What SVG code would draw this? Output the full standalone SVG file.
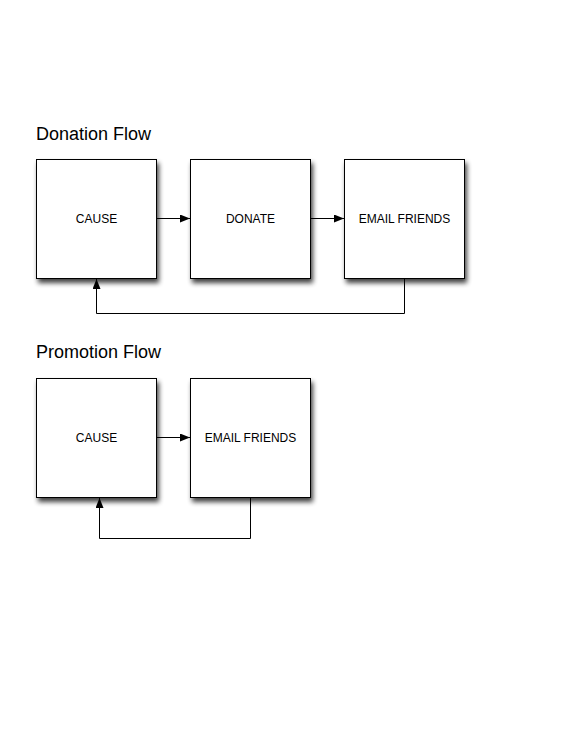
<svg xmlns="http://www.w3.org/2000/svg" width="576" height="733" viewBox="0 0 576 733">
<style>
.box{fill:#fff;stroke:#000;stroke-width:1;filter:url(#sh)}
.lbl{font-family:"Liberation Sans",Arial,sans-serif;font-size:12px;fill:#000;text-anchor:middle}
.title{font-family:"Liberation Sans",Arial,sans-serif;font-size:18px;fill:#000}
.conn{fill:none;stroke:#000;stroke-width:1}
</style>
<defs>
<filter id="sh" x="-20%" y="-20%" width="150%" height="150%">
<feGaussianBlur in="SourceAlpha" stdDeviation="2.6"/>
<feOffset dx="2" dy="3.5" result="b"/>
<feComponentTransfer><feFuncA type="linear" slope="0.75"/></feComponentTransfer>
<feMerge><feMergeNode/><feMergeNode in="SourceGraphic"/></feMerge>
</filter>
<marker id="ah" viewBox="0 0 10 8" refX="10" refY="4" markerWidth="10" markerHeight="8" markerUnits="userSpaceOnUse" orient="auto">
<path d="M0,0 L10,4 L0,8 Z" fill="#000"/>
</marker>
</defs>
<rect width="576" height="733" fill="#fff"/>
<text class="title" x="36" y="140">Donation Flow</text>
<text class="title" x="36" y="358">Promotion Flow</text>
<g id="d-cause"><rect class="box" x="36.5" y="159.5" width="120" height="119"/><text class="lbl" x="96.5" y="222.5">CAUSE</text></g>
<g id="d-donate"><rect class="box" x="190.5" y="159.5" width="120" height="119"/><text class="lbl" x="250.5" y="222.5">DONATE</text></g>
<g id="d-email"><rect class="box" x="344.5" y="159.5" width="120" height="119"/><text class="lbl" x="404.5" y="222.5">EMAIL FRIENDS</text></g>
<g id="p-cause"><rect class="box" x="36.5" y="378.5" width="120" height="119"/><text class="lbl" x="96.5" y="441.5">CAUSE</text></g>
<g id="p-email"><rect class="box" x="190.5" y="378.5" width="120" height="119"/><text class="lbl" x="250.5" y="441.5">EMAIL FRIENDS</text></g>
<g id="connectors">
<path class="conn" d="M156.5,218.5 H190" marker-end="url(#ah)"/>
<path class="conn" d="M310.5,218.5 H344" marker-end="url(#ah)"/>
<path class="conn" d="M404.5,278.5 V313.5 H96.5 V279" marker-end="url(#ah)"/>
<path class="conn" d="M156.5,437.5 H190" marker-end="url(#ah)"/>
<path class="conn" d="M250.5,497.5 V538.5 H99.5 V498" marker-end="url(#ah)"/>
</g>
</svg>
